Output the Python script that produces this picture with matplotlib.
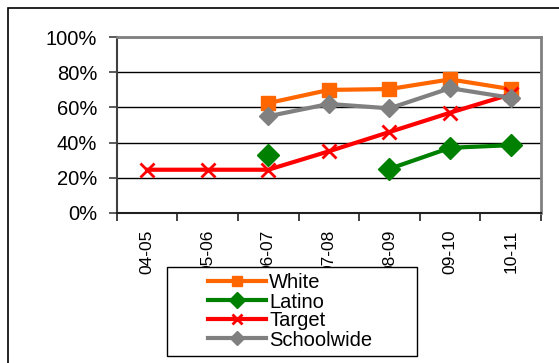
import numpy as np
import matplotlib
matplotlib.use("Agg")
import matplotlib.pyplot as plt
from matplotlib.patches import Rectangle
from matplotlib.ticker import FuncFormatter

plt.rcParams["font.family"] = ["Liberation Sans", "DejaVu Sans"]

years = ["04-05", "05-06", "06-07", "07-08", "08-09", "09-10", "10-11"]
white = [np.nan, np.nan, 62.5, 70.0, 70.5, 76.0, 70.5]
latino = [np.nan, np.nan, 33.0, np.nan, 25.0, 37.0, 38.5]
target = [24.5, 24.5, 24.5, 35.0, 46.0, 57.0, 67.5]
schoolwide = [np.nan, np.nan, 55.0, 62.0, 59.5, 71.0, 65.5]

W, H = 559, 363
fig = plt.figure(figsize=(W / 100, H / 100), dpi=100)

# outer chart border (cut off at right and bottom)
fig.patches.append(Rectangle((8 / W, -0.1), 1.2, (H - 8) / H + 0.1, transform=fig.transFigure,
                             fill=False, edgecolor="black", linewidth=1.2, zorder=0))

ax = fig.add_axes([116.7 / W, 150.3 / H, (541 - 116.7) / W, (212.7 - 37.3) / H])
x = np.arange(len(years))

ax.plot(x, white, color="#FF6600", lw=3, marker="s", ms=10, mec="#FF6600", label="White", zorder=3)
ax.plot(x, latino, color="#008000", lw=3, marker="D", ms=11, mec="#008000", label="Latino", zorder=3)
ax.plot(x, target, color="#FF0000", lw=3, marker="x", ms=10, mew=2, label="Target", zorder=3)
ax.plot(x, schoolwide, color="#808080", lw=3, marker="D", ms=9, mec="#808080", label="Schoolwide", zorder=3)

ax.set_xlim(-0.5, len(years) - 0.5)
ax.set_ylim(0, 100)
ax.set_yticks(range(0, 101, 20))
ax.yaxis.set_major_formatter(FuncFormatter(lambda v, p: f"{int(v)}%"))
ax.grid(axis="y", color="black", linewidth=1)
ax.set_axisbelow(True)

ax.set_xticks(np.arange(-0.5, len(years), 1.0))
ax.set_xticklabels([])
ax.set_xticks(x, minor=True)
ax.set_xticklabels(years, minor=True, rotation=90, fontsize=12.5)
ax.tick_params(axis="x", which="major", direction="out", length=6, width=1.2, color="#202020")
ax.tick_params(axis="x", which="minor", length=0, pad=12)
ax.tick_params(axis="y", direction="out", length=6, width=1.2, color="#404040", labelsize=14.5, pad=8)

for side in ["top", "right"]:
    ax.spines[side].set_color("#808080")
    ax.spines[side].set_linewidth(2)
ax.spines["left"].set_color("#404040")
ax.spines["left"].set_linewidth(1.5)
ax.spines["bottom"].set_color("#202020")
ax.spines["bottom"].set_linewidth(1.5)

# legend box drawn over the tick labels
fig.patches.append(Rectangle((166.7 / W, (H - 355.7) / H), 250 / W, 88.7 / H,
                             transform=fig.transFigure, facecolor="white",
                             edgecolor="black", linewidth=1, zorder=4))
leg = fig.legend(loc="center", bbox_to_anchor=(290 / W, (H - 311.5) / H), frameon=False,
                 fontsize=14.5, labelspacing=0.0, handlelength=2.9, handletextpad=0.15,
                 borderpad=0, markerscale=0.75)
leg.set_zorder(5)

fig.savefig("out.png", dpi=100)
